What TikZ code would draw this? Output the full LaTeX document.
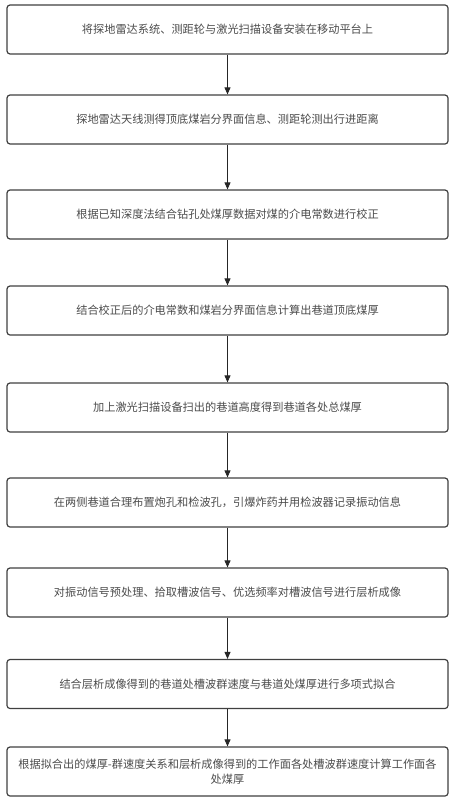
\documentclass[tikz,border=0pt]{standalone}
\usepackage{fontspec}
\newfontfamily\cjk{Noto Sans CJK SC}
\usetikzlibrary{arrows.meta}
\begin{document}
\begin{tikzpicture}[x=1pt,y=1pt,
  stepbox/.style={draw=black!75, line width=1.2pt, rounded corners=3pt, fill=white,
    minimum width=441pt, minimum height=49pt, align=center, inner sep=2pt,
    font=\cjk\fontsize{11.2}{14.5}\selectfont, text=black!70},
  flow/.style={draw=black!85, line width=0.9pt, -{Triangle[length=7pt,width=6pt]}}]
\useasboundingbox (0,0) rectangle (455,-800);
\node[stepbox] (s1) at (227.5,-29.5) {将探地雷达系统、测距轮与激光扫描设备安装在移动平台上};
\node[stepbox] (s2) at (227.5,-119.5) {探地雷达天线测得顶底煤岩分界面信息、测距轮测出行进距离};
\node[stepbox] (s3) at (227.5,-214.5) {根据已知深度法结合钻孔处煤厚数据对煤的介电常数进行校正};
\node[stepbox] (s4) at (227.5,-310.5) {结合校正后的介电常数和煤岩分界面信息计算出巷道顶底煤厚};
\node[stepbox] (s5) at (227.5,-407.5) {加上激光扫描设备扫出的巷道高度得到巷道各处总煤厚};
\node[stepbox] (s6) at (227.5,-502.5) {在两侧巷道合理布置炮孔和检波孔，引爆炸药并用检波器记录振动信息};
\node[stepbox] (s7) at (227.5,-592.5) {对振动信号预处理、拾取槽波信号、优选频率对槽波信号进行层析成像};
\node[stepbox] (s8) at (227.5,-684) {结合层析成像得到的巷道处槽波群速度与巷道处煤厚进行多项式拟合};
\node[stepbox] (s9) at (227.5,-771.5) {根据拟合出的煤厚-群速度关系和层析成像得到的工作面各处槽波群速度计算工作面各\\处煤厚};
\draw[flow] (s1) -- (s2);
\draw[flow] (s2) -- (s3);
\draw[flow] (s3) -- (s4);
\draw[flow] (s4) -- (s5);
\draw[flow] (s5) -- (s6);
\draw[flow] (s6) -- (s7);
\draw[flow] (s7) -- (s8);
\draw[flow] (s8) -- (s9);
\end{tikzpicture}
\end{document}
